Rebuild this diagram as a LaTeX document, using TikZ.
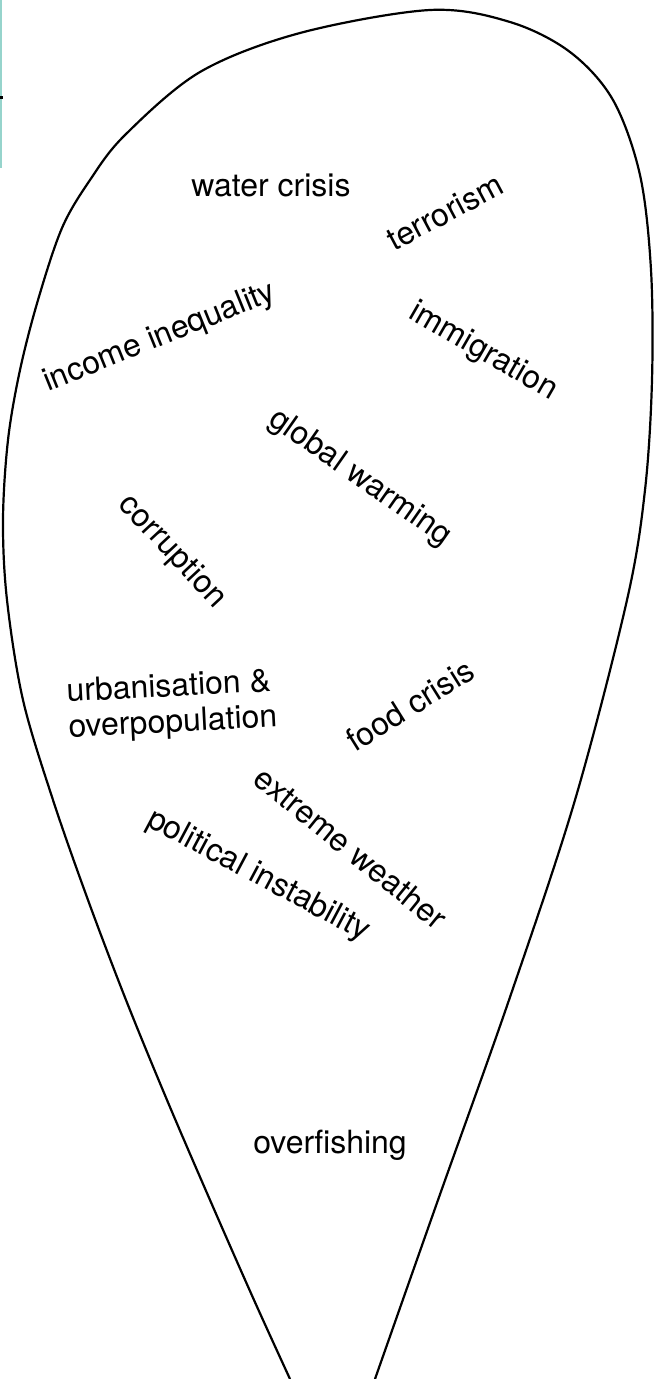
\documentclass[tikz,border=0pt]{standalone}
\usepackage{fontspec}
\setmainfont{TeX Gyre Heros}
\begin{document}
\begin{tikzpicture}[x=1pt,y=-1pt,
  lbl/.style={inner sep=0pt, font=\fontsize{32}{36}\selectfont, align=left},
  outline/.style={line width=2.2pt, black, line join=round}]
\useasboundingbox (0,0) rectangle (654,1379);
\definecolor{tealedge}{RGB}{150,212,204}
\fill[tealedge] (0,0) rectangle (2,168);
\fill[black] (0,96) rectangle (2.5,98.5);
\draw[outline] plot[smooth, tension=0.55] coordinates {
  (290,1379) (254,1300) (210,1200) (167,1100) (126,1000) (88,900)
  (53,800) (23,700) (7,600) (3,520) (8,440) (20,370) (38,300)
  (62,228) (90,180) (125,135) (200,72) (300,33) (430,10) (510,22)
  (570,52) (613,100) (640,175) (651,270) (652,380) (645,490)
  (627,600) (575,800) (509,1000) (438,1200) (375,1379)};
\node[lbl] (water) at (271,185) {water crisis};
\node[lbl, rotate=28] (terror) at (445,212) {terrorism};
\node[lbl, rotate=22] (income) at (160,338) {income inequality};
\node[lbl, rotate=-30] (immig) at (483,352) {immigration};
\node[lbl, rotate=-35] (global) at (360,478) {global warming};
\node[lbl, rotate=-47] (corrupt) at (172,552) {corruption};
\node[lbl, rotate=3, align=left] (urban) at (172,706) {urbanisation \&\\overpopulation};
\node[lbl, rotate=32] (food) at (410,705) {food crisis};
\node[lbl, rotate=-39] (extreme) at (351,848) {extreme weather};
\node[lbl, rotate=-28] (political) at (258,876) {political instability};
\node[lbl] (overfish) at (330,1145) {overfishing};
\end{tikzpicture}
\end{document}
